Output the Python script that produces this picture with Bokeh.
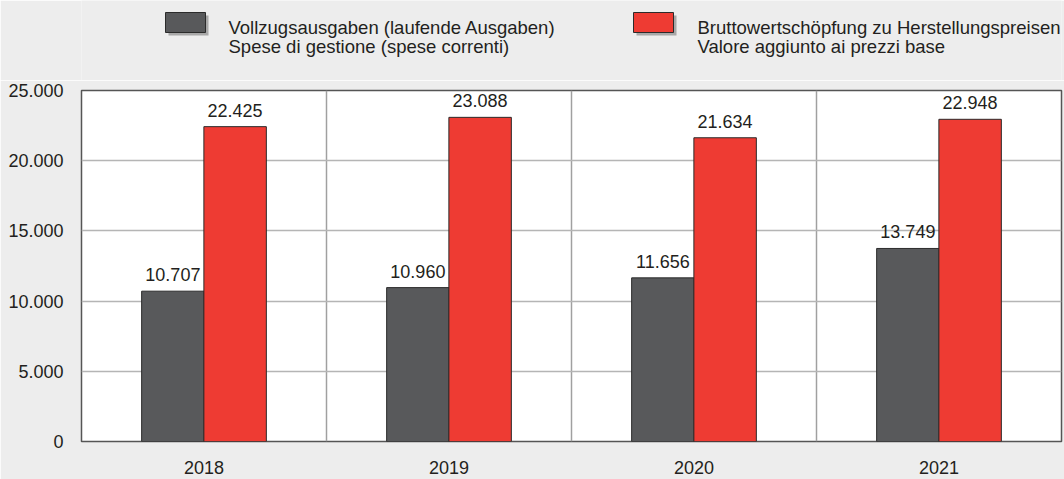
from bokeh.plotting import figure
from bokeh.layouts import column
from bokeh.models import Range1d, FixedTicker, ColumnDataSource, LabelSet
from bokeh.core.properties import value
from bokeh.embed import file_html
from bokeh.resources import INLINE

years = ["2018", "2019", "2020", "2021"]
spese = [10707, 10960, 11656, 13749]      # Vollzugsausgaben / Spese di gestione
valore = [22425, 23088, 21634, 22948]     # Bruttowertschöpfung / Valore aggiunto
legend_1 = ["Vollzugsausgaben (laufende Ausgaben)", "Spese di gestione (spese correnti)"]
legend_2 = ["Bruttowertschöpfung zu Herstellungspreisen", "Valore aggiunto ai prezzi base"]
y_ticks = [0, 5000, 10000, 15000, 20000, 25000]

FONT = "Liberation Sans"
FS = "18px"
TXT = "#231f20"
GRAY = "#58595b"
RED = "#ee3b33"
BG = "#ededed"

def fmt(v):
    return f"{v:,}".replace(",", ".")

W, H = 1064, 479
LH = 80                               # height of legend strip
FL, FT, FR, FB = 81, 90, 1061, 441    # frame edges in page pixels

# ---------------- legend strip (frame is aligned with the main frame) --------
lg = figure(width=W, height=LH, output_backend="svg", toolbar_location=None,
            x_range=Range1d(FL, FR), y_range=Range1d(LH, 0),
            min_border=0, min_border_left=FL, min_border_right=W - FR,
            min_border_top=0, min_border_bottom=0)
lg.axis.visible = False
lg.grid.visible = False
lg.outline_line_color = None
lg.background_fill_color = BG
lg.border_fill_color = BG

def legend_entry(x_box, x_text, color, lines):
    lg.quad(left=[x_box + 3], right=[x_box + 43], top=[15], bottom=[35],
            fill_color="#a8a8a8", line_color=None)
    lg.quad(left=[x_box], right=[x_box + 40], top=[12], bottom=[32],
            fill_color=color, line_color="#2b2b2b", line_width=1)
    lg.text(x=[x_text] * len(lines), y=[26.5 + 19.5 * k for k in range(len(lines))],
            text=lines, text_font=value(FONT), text_font_size=value("18.5px"),
            text_color=TXT, text_baseline="alphabetic", text_align="left")

legend_entry(165, 228, GRAY, legend_1)
legend_entry(633, 697, RED, legend_2)

# ---------------- main chart ----------------
p = figure(width=W, height=H - LH, output_backend="svg", toolbar_location=None,
           x_range=Range1d(0, len(years)), y_range=Range1d(0, 25000),
           min_border_left=FL, min_border_right=W - FR, min_border_top=FT - LH,
           min_border_bottom=H - FB)
p.background_fill_color = "white"
p.border_fill_color = BG
p.outline_line_color = "#555555"
p.outline_line_width = 1.5

centers = [i + 0.5 for i in range(len(years))]
off, bw = 0.127, 0.255
src = ColumnDataSource(dict(
    xg=[c - off for c in centers], xr=[c + off for c in centers],
    spese=spese, valore=valore,
    ls=[fmt(v) for v in spese], lv=[fmt(v) for v in valore]))

p.vbar(x="xg", top="spese", width=bw, source=src, fill_color=GRAY,
       line_color="#2b2b2b", line_width=1)
p.vbar(x="xr", top="valore", width=bw, source=src, fill_color=RED,
       line_color="#2b2b2b", line_width=1)

for xcol, ycol, tcol in (("xg", "spese", "ls"), ("xr", "valore", "lv")):
    p.add_layout(LabelSet(x=xcol, y=ycol, text=tcol, source=src, y_offset=10,
                          text_align="center", text_baseline="alphabetic",
                          text_font=value(FONT), text_font_size=value(FS),
                          text_color=TXT))

# axes
p.yaxis.ticker = FixedTicker(ticks=y_ticks)
p.yaxis.major_label_overrides = {t: fmt(t) for t in y_ticks}
p.xaxis.ticker = FixedTicker(ticks=centers)
p.xaxis.major_label_overrides = {c: y for c, y in zip(centers, years)}
for ax in (p.xaxis[0], p.yaxis[0]):
    ax.axis_line_color = None
    ax.major_tick_line_color = None
    ax.minor_tick_line_color = None
    ax.major_tick_out = 0
    ax.major_tick_in = 0
    ax.major_label_text_font = FONT
    ax.major_label_text_font_size = FS
    ax.major_label_text_color = TXT
p.yaxis.major_label_standoff = 18
p.xaxis.major_label_standoff = 19

# grids
p.ygrid.ticker = FixedTicker(ticks=y_ticks)
p.ygrid.grid_line_color = "#b5b5b5"
p.ygrid.grid_line_width = 1.5
p.xgrid.ticker = FixedTicker(ticks=list(range(1, len(years))))
p.xgrid.grid_line_color = "#a0a0a0"
p.xgrid.grid_line_width = 1.5

layout = column(lg, p, spacing=0)
open("out.html", "w").write(file_html(layout, INLINE))
